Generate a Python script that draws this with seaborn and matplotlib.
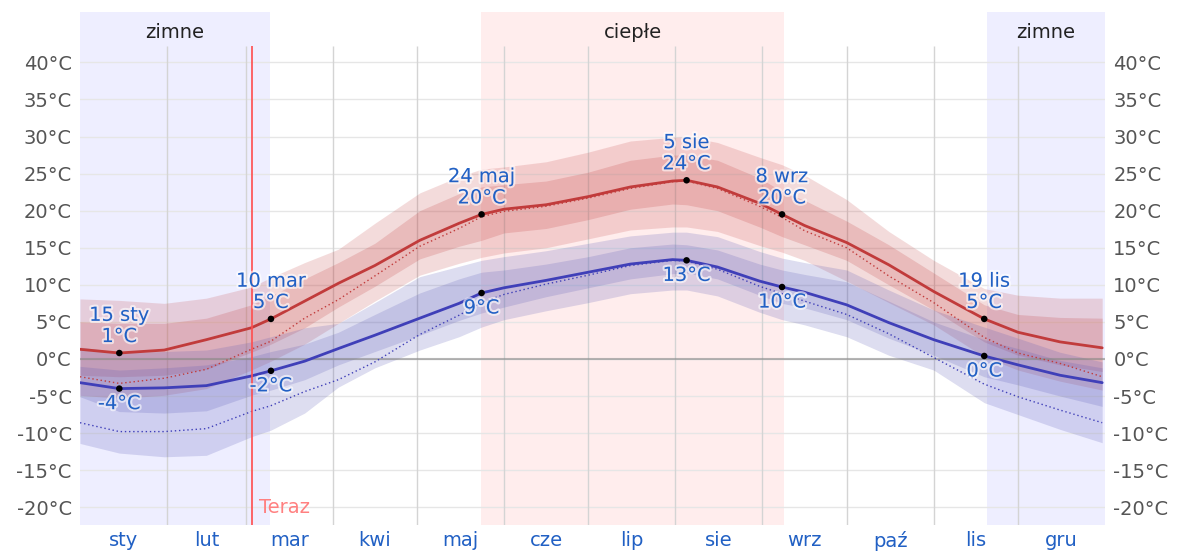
import numpy as np
import matplotlib
matplotlib.use("Agg")
import matplotlib.pyplot as plt
import matplotlib.patheffects as pe
import seaborn as sns

# day of year (0 = 1 Jan) at which values were read
days = [0, 14, 30, 45, 61, 68, 80, 92, 105, 121, 135, 143, 151, 166, 181,
        196, 211, 216, 227, 242, 250, 258, 273, 288, 304, 322, 334, 349, 364]

# average daily high / low
high = [1.3, 0.8, 1.2, 2.6, 4.2, 5.4, 7.8, 10.2, 12.6, 16.0, 18.3, 19.5, 20.2, 20.8, 21.9,
        23.2, 24.0, 24.1, 23.2, 21.0, 19.5, 18.0, 15.7, 12.7, 9.1, 5.4, 3.6, 2.3, 1.5]
low = [-3.2, -4.0, -3.9, -3.6, -2.3, -1.6, -0.3, 1.4, 3.2, 5.5, 7.5, 8.9, 9.6, 10.6, 11.7,
       12.8, 13.4, 13.3, 12.4, 10.5, 9.7, 9.0, 7.3, 4.9, 2.6, 0.4, -0.8, -2.2, -3.2]

# perceived (feels-like) high / low
high_feel = [-2.4, -3.3, -2.6, -1.4, 1.3, 2.4, 5.5, 8.0, 11.2, 15.2, 17.6, 19.2, 19.9, 20.6, 21.7,
             23.0, 23.9, 24.0, 23.0, 20.6, 19.1, 17.3, 15.0, 11.2, 7.6, 2.9, 0.8, -0.6, -2.4]
low_feel = [-8.6, -9.8, -9.8, -9.4, -7.1, -6.3, -4.4, -2.8, -0.4, 3.3, 5.9, 7.6, 8.7, 10.1, 11.3,
            12.6, 13.3, 13.2, 12.1, 9.8, 8.8, 7.8, 6.0, 3.4, 0.2, -3.4, -5.1, -6.9, -8.6]

# percentile bands of the daily high
high_p90 = [8.1, 7.9, 7.5, 8.2, 9.7, 11.0, 13.0, 14.8, 18.3, 22.4, 24.6, 25.6, 25.9, 26.6, 27.9,
            29.4, 29.9, 30.0, 29.2, 27.2, 26.2, 24.8, 21.5, 17.2, 13.3, 9.5, 8.6, 8.2, 8.2]
high_p75 = [5.0, 4.8, 4.8, 5.5, 7.3, 8.5, 10.8, 13.0, 15.6, 20.0, 22.3, 23.2, 23.5, 24.0, 25.2,
            26.8, 27.5, 27.5, 26.8, 24.4, 22.6, 21.4, 18.6, 15.4, 11.6, 7.3, 6.0, 5.6, 5.5]
high_p25 = [-2.2, -2.4, -2.2, -1.4, 0.9, 2.0, 4.2, 7.0, 9.8, 13.5, 15.2, 16.0, 17.0, 17.6, 18.8,
            20.2, 20.9, 20.8, 20.0, 17.8, 16.5, 15.4, 13.3, 10.0, 6.6, 2.3, 0.5, -0.8, -1.7]
high_p10 = [-4.9, -5.3, -4.9, -4.0, -1.5, -0.3, 2.0, 4.8, 7.8, 11.3, 12.9, 13.7, 14.3, 15.0, 16.2,
            17.4, 17.8, 17.8, 17.2, 15.3, 14.4, 13.3, 10.5, 7.6, 4.6, 0.3, -1.5, -3.0, -4.2]

# percentile bands of the daily low
low_p90 = [1.6, 0.9, 1.0, 1.2, 2.3, 3.0, 4.2, 4.8, 7.6, 11.1, 12.5, 13.3, 13.8, 14.6, 15.6,
           16.6, 17.1, 17.1, 16.5, 14.5, 13.6, 13.0, 12.0, 9.3, 6.6, 4.3, 2.8, 0.9, -0.4]
low_p75 = [-1.0, -1.5, -1.2, -0.8, 0.3, 1.0, 2.0, 3.6, 6.0, 8.9, 10.8, 11.7, 12.0, 12.8, 13.8,
           15.0, 15.5, 15.4, 14.7, 12.8, 12.0, 11.4, 10.4, 7.8, 5.0, 2.6, 1.4, -0.2, -1.2]
low_p25 = [-5.1, -7.1, -7.3, -7.0, -4.9, -4.2, -2.8, -0.8, 1.0, 3.2, 5.2, 6.2, 7.0, 8.4, 9.6,
           10.8, 11.5, 11.6, 10.8, 8.6, 7.5, 6.9, 5.3, 2.8, 0.5, -2.4, -3.5, -5.0, -6.4]
low_p10 = [-11.4, -12.7, -13.2, -13.0, -10.5, -9.6, -7.3, -3.8, -1.2, 1.2, 3.0, 4.3, 5.3, 6.5, 7.6,
           8.8, 9.3, 9.3, 8.5, 6.3, 5.3, 4.6, 3.0, 0.5, -1.5, -5.9, -7.5, -9.5, -11.3]

# annotated days
ann_days = [14, 68, 143, 216, 250, 322]
ann_dates = ["15 sty", "10 mar", "24 maj", "5 sie", "8 wrz", "19 lis"]
ann_high = [1, 5, 20, 24, 20, 5]
ann_low = [-4, -2, 9, 13, 10, 0]

months = ["sty", "lut", "mar", "kwi", "maj", "cze", "lip", "sie", "wrz", "paź", "lis", "gru"]
month_starts = [0, 31, 59, 90, 120, 151, 181, 212, 243, 273, 304, 334, 365]

seasons = [("zimne", 0, 67.7, "#eeeeff"), ("ciepłe", 142.8, 250.7, "#ffeded"),
           ("zimne", 323, 365, "#eeeeff")]
now_day = 61.3
y_ticks = list(range(-20, 45, 5))

RED = "#c13b3b"
BLUE = "#3f3fb8"
BAND_BLUE = "#5656b4"
LABEL_BLUE = "#2160c4"
FS = 14

sns.set_style("white")
plt.rcParams['font.family'] = ['DejaVu Sans']

fig = plt.figure(figsize=(11.78, 5.51), dpi=100)
ax = fig.add_axes([80 / 1178, 26 / 551, 1025 / 1178, 513 / 551])
ax.set_xlim(0, 365)
ax.set_ylim(-22.4, 46.8)

# season shading and labels
for name, start, end, col in seasons:
    ax.axvspan(start, end, color=col, lw=0, zorder=0)
    ax.text((start + end) / 2, 44.1, name, ha="center", va="center",
            fontsize=FS, color="#222222")

# grid
for t in y_ticks:
    ax.axhline(t, color="#e6e6e6", lw=1, zorder=1)
ax.vlines(month_starts[1:-1], -22.4, 42.2, color="#d4d4d4", lw=1, zorder=1)

# bands
ax.fill_between(days, high_p10, high_p90, color=RED, alpha=0.18, lw=0, zorder=2)
ax.fill_between(days, high_p25, high_p75, color=RED, alpha=0.2, lw=0, zorder=2)
ax.fill_between(days, low_p10, low_p90, color=BAND_BLUE, alpha=0.2, lw=0, zorder=2)
ax.fill_between(days, low_p25, low_p75, color=BAND_BLUE, alpha=0.2, lw=0, zorder=2)

ax.axhline(0, color="#888888", alpha=0.6, lw=1.5, zorder=3)

# lines
sns.lineplot(x=days, y=high_feel, ax=ax, color=RED, lw=1, linestyle=(0, (1, 2)), zorder=4)
sns.lineplot(x=days, y=low_feel, ax=ax, color=BLUE, lw=1, linestyle=(0, (1, 2)), zorder=4)
sns.lineplot(x=days, y=high, ax=ax, color=RED, lw=2, zorder=5)
sns.lineplot(x=days, y=low, ax=ax, color=BLUE, lw=2, zorder=5)

# "now" marker
ax.vlines(now_day, -22.4, 42.2, color="#ff4d4d", lw=1.2, zorder=6)
ax.text(now_day + 2.5, -20.1, "Teraz", color="#ff8080", fontsize=FS,
        ha="left", va="center", zorder=6)

# annotated points
halo = [pe.withStroke(linewidth=3, foreground="white", alpha=0.6)]
ann_x = [d for d in ann_days for _ in range(2)]
ann_yv = [high[days.index(d)] if i % 2 == 0 else low[days.index(d)]
          for i, d in enumerate(ann_x)]
sns.scatterplot(x=ann_x, y=ann_yv, ax=ax, color="black", s=22, edgecolor="none", zorder=7)
for d, lab, hv, lv in zip(ann_days, ann_dates, ann_high, ann_low):
    hy = high[days.index(d)]
    ly = low[days.index(d)]
    ax.annotate(f"{lab}\n{hv}°C", (d, hy), xytext=(0, 5), textcoords="offset points",
                ha="center", va="bottom", fontsize=FS, color=LABEL_BLUE,
                linespacing=1.15, zorder=8, path_effects=halo)
    ax.annotate(f"{lv}°C", (d, ly), xytext=(0, -4), textcoords="offset points",
                ha="center", va="top", fontsize=FS, color=LABEL_BLUE,
                zorder=8, path_effects=halo)

# axes / ticks
ax.set_yticks(y_ticks)
ax.set_yticklabels([f"{t}°C" for t in y_ticks])
ax.tick_params(axis="y", length=0, labelleft=True, labelright=True,
               labelsize=FS, labelcolor="#555555", pad=6)
month_mid = [(a + b) / 2 for a, b in zip(month_starts[:-1], month_starts[1:])]
ax.set_xticks(month_mid)
ax.set_xticklabels(months)
ax.tick_params(axis="x", length=0, labelsize=FS, labelcolor=LABEL_BLUE, pad=4)
ax.grid(False)
for s in ax.spines.values():
    s.set_visible(False)

fig.savefig("out.png", dpi=100)
